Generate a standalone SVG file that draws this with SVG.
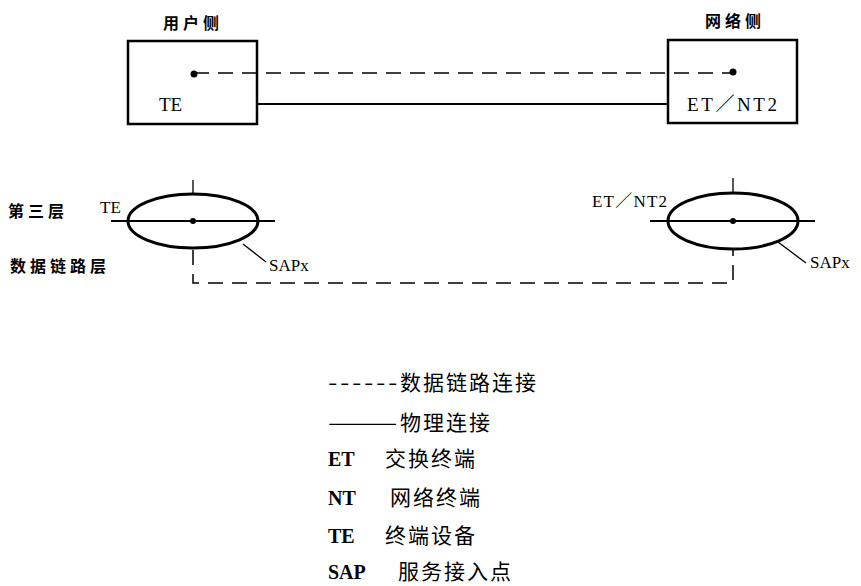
<svg xmlns="http://www.w3.org/2000/svg" width="861" height="586" viewBox="0 0 861 586">
<style>
.box{fill:none;stroke:#000;stroke-width:2.5}
.ell{fill:none;stroke:#000;stroke-width:3}
.solid{fill:none;stroke:#000;stroke-width:2}
.thin{fill:none;stroke:#000;stroke-width:1.3}
.dash{fill:none;stroke:#000;stroke-width:1.5;stroke-dasharray:15 9}
.lat{font-family:"Liberation Serif","Noto Sans CJK SC",serif;fill:#000}
.cjkb{font-family:"Noto Sans CJK SC",sans-serif;font-weight:bold;font-size:16px;letter-spacing:4px;fill:#000}
.leg{font-family:"Noto Sans CJK SC",sans-serif;font-size:21px;letter-spacing:2px;fill:#000}
.legb{font-family:"Liberation Serif",serif;font-weight:bold;font-size:20px;fill:#000}
</style>
<g id="connectors">
<line class="dash" x1="194" y1="73" x2="733" y2="73"/>
<line class="solid" x1="257" y1="104" x2="668" y2="104"/>
<path class="dash" d="M193,250 V283 H733 V249"/>
<line class="thin" x1="243" y1="244" x2="266" y2="262"/>
<line class="thin" x1="778" y1="242" x2="806" y2="263"/>
</g>
<g id="user-side">
<text class="cjkb" x="163" y="29">用户侧</text>
<rect class="box" x="128" y="41" width="129" height="83"/>
<circle cx="194" cy="74" r="3.5" fill="#000"/>
<text class="lat" x="159" y="111" font-size="19">TE</text>
</g>
<g id="network-side">
<text class="cjkb" x="705" y="27">网络侧</text>
<rect class="box" x="668" y="40" width="129" height="83"/>
<circle cx="733" cy="72" r="3.5" fill="#000"/>
<text class="lat" x="687" y="111" font-size="19" textLength="90">ET／NT2</text>
</g>
<g id="layer-labels">
<text class="cjkb" x="8" y="217">第三层</text>
<text class="cjkb" x="10" y="272">数据链路层</text>
</g>
<g id="te-sap">
<line class="thin" x1="193" y1="180" x2="193" y2="194"/>
<line class="solid" x1="111" y1="221" x2="275" y2="221"/>
<ellipse class="ell" cx="193" cy="221" rx="65" ry="27"/>
<circle cx="193" cy="221" r="3" fill="#000"/>
<text class="lat" x="100" y="213" font-size="17">TE</text>
<text class="lat" x="269" y="271" font-size="17">SAPx</text>
</g>
<g id="et-sap">
<line class="thin" x1="733" y1="178" x2="733" y2="193"/>
<line class="solid" x1="650" y1="221" x2="815" y2="221"/>
<ellipse class="ell" cx="733" cy="221" rx="65" ry="28"/>
<circle cx="733" cy="221" r="3" fill="#000"/>
<text class="lat" x="592" y="207" font-size="17" textLength="75">ET／NT2</text>
<text class="lat" x="810" y="268" font-size="17">SAPx</text>
</g>
<g id="legend">
<text class="leg" x="328" y="390"><tspan textLength="72" lengthAdjust="spacingAndGlyphs">------</tspan>数据链路连接</text>
<text class="leg" x="328" y="430"><tspan textLength="72" lengthAdjust="spacingAndGlyphs">———</tspan>物理连接</text>
<text class="legb" x="328" y="466">ET</text><text class="leg" x="385" y="466">交换终端</text>
<text class="legb" x="328" y="505">NT</text><text class="leg" x="390" y="505">网络终端</text>
<text class="legb" x="328" y="543">TE</text><text class="leg" x="385" y="543">终端设备</text>
<text class="legb" x="328" y="579">SAP</text><text class="leg" x="398" y="579">服务接入点</text>
</g>
</svg>
